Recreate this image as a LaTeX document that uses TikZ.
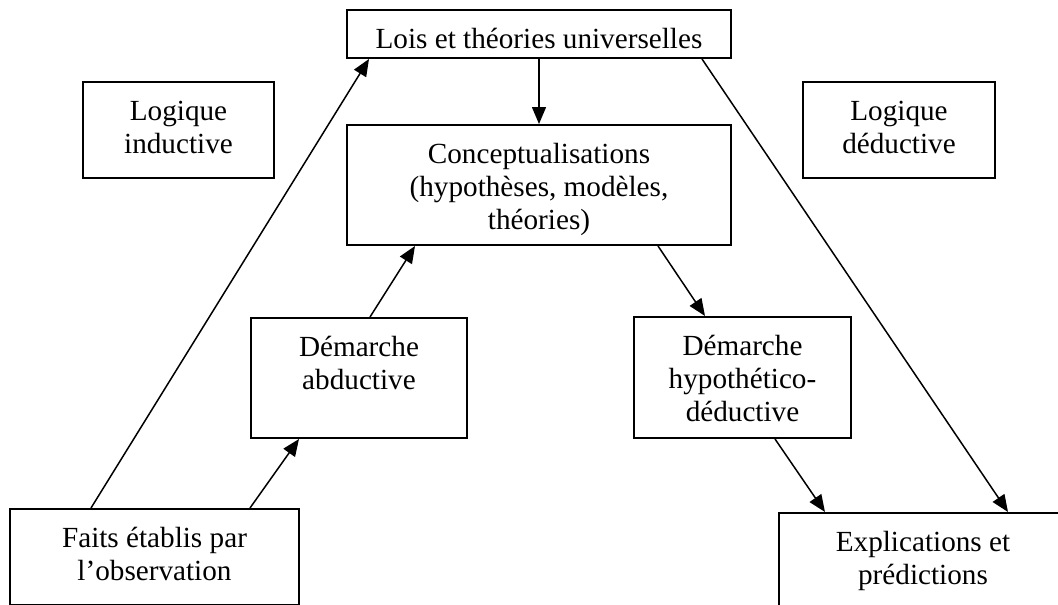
\documentclass[tikz,border=0pt]{standalone}
\usepackage{fontspec}
\setmainfont{Liberation Serif}
\usetikzlibrary{arrows.meta}
\newcommand{\boxtext}[3]{\parbox[c][#2][t]{#1}{\centering\vspace*{14.9pt}\strut #3}}
\tikzset{
    block/.style={
        rectangle, draw, line width=2pt,
        inner sep=0pt, anchor=north west,
        font=\fontsize{29.2}{33}\selectfont
    },
    connector/.style={
        line width=1.5pt,
        -{Triangle[length=17pt,width=14pt]}
    }
}
\begin{document}
\begin{tikzpicture}[x=1pt,y=-1pt]
    \useasboundingbox (0,0) rectangle (1058,605);
    \node[block] (lois) at (346,9) {\boxtext{384pt}{48pt}{Lois et théories universelles}};
    \node[block] (induct) at (82,81) {\boxtext{191pt}{96pt}{Logique\\inductive}};
    \node[block] (deduct) at (802,81) {\boxtext{192pt}{96pt}{Logique\\déductive}};
    \node[block] (concept) at (346,124) {\boxtext{384pt}{120pt}{Conceptualisations\\(hypothèses, modèles,\\théories)}};
    \node[block] (abduct) at (250,317) {\boxtext{216pt}{120pt}{Démarche\\abductive}};
    \node[block] (hypo) at (633,316) {\boxtext{217pt}{121pt}{Démarche\\hypothético-\\déductive}};
    \node[block] (faits) at (9,508) {\boxtext{289pt}{96pt}{Faits établis par\\l’observation}};
    \node[block] (explic) at (778,512) {\boxtext{288pt}{96pt}{Explications et\\prédictions}};

    \draw [connector] (lois.south) -- (concept.north);
    \draw [connector] ([xshift=82pt]faits.north west) -- ([xshift=23pt]lois.south west);
    \draw [connector] ([xshift=241pt]faits.north west) -- ([xshift=49pt]abduct.south west);
    \draw [connector] ([xshift=120pt]abduct.north west) -- ([xshift=69pt]concept.south west);
    \draw [connector] ([xshift=312pt]concept.south west) -- ([xshift=72pt]hypo.north west);
    \draw [connector] ([xshift=142pt]hypo.south west) -- ([xshift=47pt]explic.north west);
    \draw [connector] ([xshift=356pt]lois.south west) -- ([xshift=230pt]explic.north west);
\end{tikzpicture}
\end{document}
